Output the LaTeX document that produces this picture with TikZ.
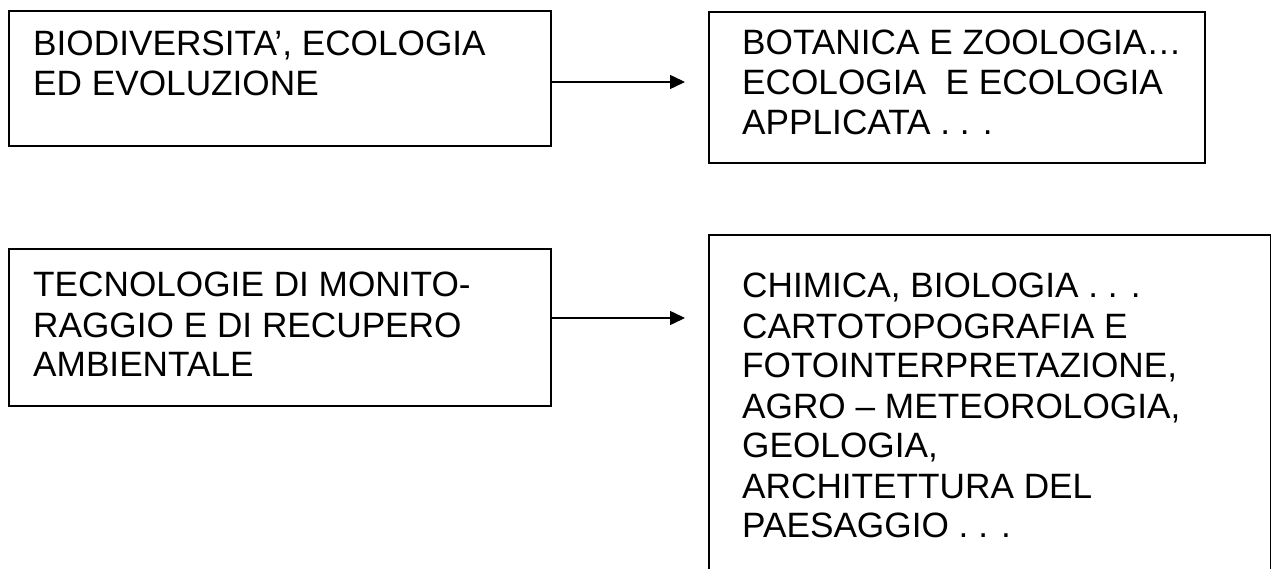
\documentclass[tikz,border=0pt]{standalone}
\usepackage{fontspec}
\setmainfont{Liberation Sans}
\usetikzlibrary{arrows.meta}
\newcommand{\boxlines}[1]{\vtop{\baselineskip=40pt\lineskiplimit=0pt\halign{##\hfil\cr#1\crcr}}}
\tikzset{
  box/.style={draw=black, line width=2pt, rectangle, inner sep=0pt, anchor=north west},
  txt/.style={inner sep=0pt, anchor=base west, font=\fontsize{35.2pt}{40pt}\selectfont},
  conn/.style={draw=black, line width=1.5pt, -{Triangle[length=15pt,width=14pt]}}
}
\begin{document}
\begin{tikzpicture}[x=1pt,y=-1pt]
\useasboundingbox (0,0) rectangle (1271,569);
\fill[white] (0,0) rectangle (1271,569);
% boxes
\node[box, minimum width=542pt, minimum height=135pt] (A) at (8,10) {};
\node[box, minimum width=496pt, minimum height=151pt] (B) at (708,11) {};
\node[box, minimum width=542pt, minimum height=157pt] (C) at (8,248) {};
\node[box, minimum width=562pt, minimum height=360pt] (D) at (708,234) {};
% texts
\node[txt] (At) at (33,56) {\boxlines{BIODIVERSITA’, ECOLOGIA\cr ED EVOLUZIONE}};
\node[txt] (Bt) at (742,55) {\boxlines{BOTANICA E ZOOLOGIA…\cr ECOLOGIA\ \ E ECOLOGIA\cr APPLICATA . . .}};
\node[txt] (Ct) at (33,297) {\boxlines{TECNOLOGIE DI MONITO-\cr RAGGIO E DI RECUPERO\cr AMBIENTALE}};
\node[txt] (Dt) at (742,298) {\boxlines{CHIMICA, BIOLOGIA . . .\cr CARTOTOPOGRAFIA E\cr FOTOINTERPRETAZIONE,\cr AGRO – METEOROLOGIA,\cr GEOLOGIA,\cr ARCHITETTURA DEL\cr PAESAGGIO . . .}};
% connectors
\coordinate (a1) at (685,82);
\coordinate (a2) at (685,318);
\draw[conn] (A.east |- a1) -- (a1);
\draw[conn] (C.east |- a2) -- (a2);
\end{tikzpicture}
\end{document}
